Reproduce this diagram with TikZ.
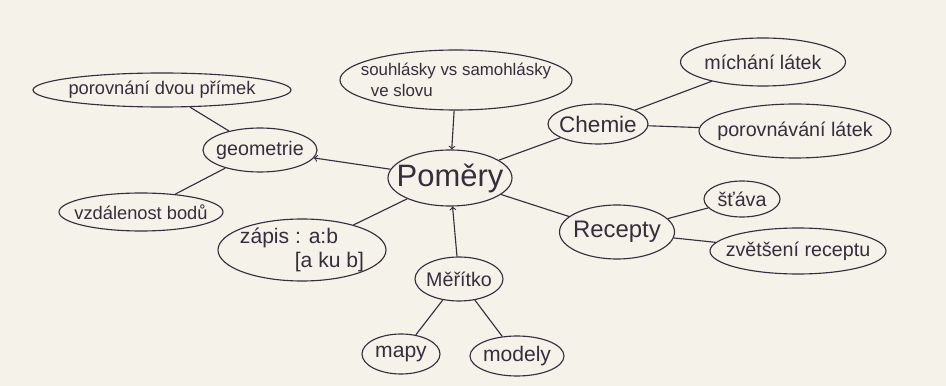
\documentclass[tikz,border=0pt]{standalone}
\usepackage{fontspec}
\setmainfont{Liberation Sans}
\usetikzlibrary{shapes.geometric}
\definecolor{paper}{RGB}{244,242,233}
\definecolor{ink}{RGB}{55,45,60}
\begin{document}
\begin{tikzpicture}[x=0.025cm,y=-0.025cm,
  bubble/.style={draw=ink, ellipse, thick, inner ysep=0pt, inner xsep=-1.2em, text=ink, font=\fontsize{14}{16}\selectfont, align=center},
  bsize/.style 2 args={minimum width=#1*0.025cm, minimum height=#2*0.025cm},
  link/.style={draw=ink, thick, -}]
\useasboundingbox (0,0) rectangle (946,386);
\fill[paper] (0,0) rectangle (946,386);
\node[bubble, bsize={258}{34}, font=\fontsize{13}{15}\selectfont] (primky) at (162,90) {porovnání dvou přímek};
\node[bubble, bsize={114}{44}] (geo) at (260,150) {geometrie};
\node[bubble, bsize={164}{38}, font=\fontsize{13}{15}\selectfont] (vzdal) at (141,212) {vzdálenost bodů};
\node[bubble, bsize={232}{60}, font=\fontsize{12}{15}\selectfont, align=left] (hlasky) at (456,80) {souhlásky vs samohlásky\\\hspace*{0.6em}ve slovu};
\node[bubble, bsize={124}{56}, font=\fontsize{22}{25}\selectfont] (pomery) at (450,178) {Poměry};
\node[bubble, bsize={100}{40}, font=\fontsize{16}{18}\selectfont] (chemie) at (598,124) {Chemie};
\node[bubble, bsize={165}{48}] (michani) at (763,62) {míchání látek};
\node[bubble, bsize={192}{54}] (porovn) at (795,131) {porovnávání látek};
\node[bubble, bsize={115}{54}, font=\fontsize{17}{19}\selectfont] (recepty) at (617,232) {Recepty};
\node[bubble, bsize={76}{36}] (stava) at (742,199) {šťáva};
\node[bubble, bsize={176}{46}] (zvetseni) at (798,251) {zvětšení receptu};
\node[bubble, bsize={168}{62}, font=\fontsize{15}{17}\selectfont, align=left] (zapis) at (302,250) {zápis : a:b\\\hspace*{2.6em}[a ku b]};
\node[bubble, bsize={88}{44}] (meritko) at (459,279) {Měřítko};
\node[bubble, bsize={78}{40}, font=\fontsize{15}{17}\selectfont] (mapy) at (401,354) {mapy};
\node[bubble, bsize={94}{40}, font=\fontsize{15}{17}\selectfont] (modely) at (517,356) {modely};

\path[link] (primky) -- (geo);
\path[link] (geo) -- (vzdal);
\path[link,->] (pomery) -- (geo);
\path[link,->] (hlasky) -- (pomery);
\path[link] (pomery) -- (chemie);
\path[link] (chemie) -- (michani);
\path[link] (chemie) -- (porovn);
\path[link] (pomery) -- (recepty);
\path[link] (recepty) -- (stava);
\path[link] (recepty) -- (zvetseni);
\path[link] (pomery) -- (zapis);
\path[link,->] (meritko) -- (pomery);
\path[link] (meritko) -- (mapy);
\path[link] (meritko) -- (modely);
\end{tikzpicture}
\end{document}
